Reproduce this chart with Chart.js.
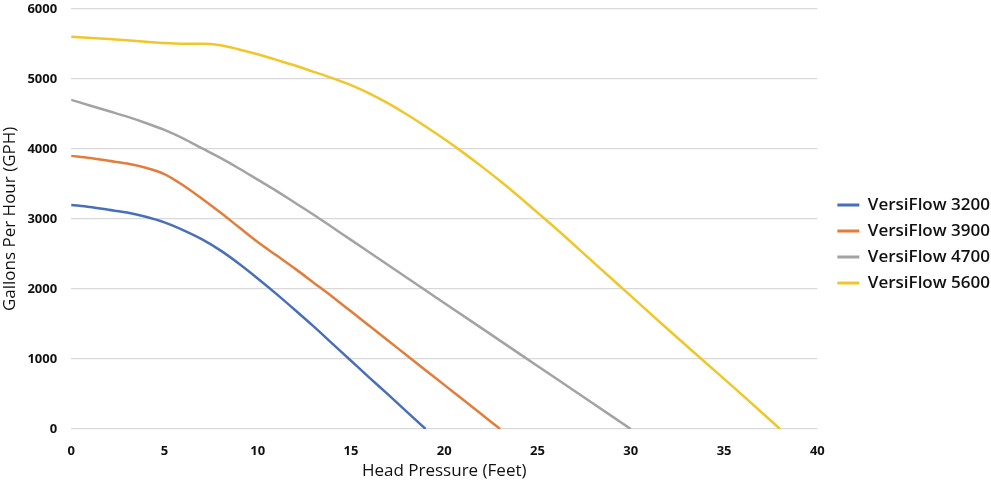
<!DOCTYPE html>
<html>
<head>
<meta charset="utf-8">
<script src="https://cdn.jsdelivr.net/npm/chart.js@4"></script>
<style>
  html, body { margin: 0; padding: 0; background: #fff; }
  #wrap { width: 991px; height: 483px; position: relative; }
</style>
</head>
<body>
<div id="wrap"><canvas id="pumpCurves"></canvas></div>
<script>
const seriesNames = ['VersiFlow 3200', 'VersiFlow 3900', 'VersiFlow 4700', 'VersiFlow 5600'];
const seriesColors = ['#4870B8', '#E27D3A', '#A3A3A3', '#F0C72A'];

// head pressure (feet) / flow (GPH)
const head3200 = [0, 1, 2, 3, 4, 5, 6, 7, 8, 9, 10, 11, 12, 13, 14, 15, 16, 17, 18, 19];
const flow3200 = [3200, 3170, 3130, 3090, 3030, 2950, 2840, 2710, 2550, 2360, 2150, 1930, 1700, 1465, 1220, 975, 730, 490, 245, 0];

const head3900 = [0, 1, 2, 3, 4, 5, 6, 7, 8, 9, 10, 11, 12, 13, 14, 15, 16, 17, 18, 19, 20, 21, 22, 23];
const flow3900 = [3900, 3870, 3830, 3790, 3730, 3640, 3480, 3290, 3090, 2880, 2670, 2480, 2290, 2090, 1890, 1680, 1470, 1260, 1050, 840, 630, 420, 210, 0];

const head4700 = [0, 1, 2, 3, 4, 5, 6, 7, 8, 9, 10, 11, 12, 13, 14, 15, 16, 18, 20, 22, 24, 26, 28, 30];
const flow4700 = [4700, 4620, 4540, 4460, 4370, 4270, 4150, 4010, 3870, 3720, 3560, 3400, 3230, 3060, 2880, 2700, 2520, 2160, 1800, 1440, 1080, 720, 360, 0];

const head5600 = [0, 2, 4, 5, 6, 7, 8, 9, 10, 11, 12, 13, 14, 15, 16, 17, 18, 19, 20, 21, 22, 23, 24, 25, 26, 28, 30, 32, 34, 36, 38];
const flow5600 = [5600, 5570, 5530, 5510, 5500, 5500, 5480, 5420, 5350, 5270, 5190, 5100, 5010, 4910, 4790, 4650, 4490, 4320, 4140, 3950, 3750, 3540, 3320, 3090, 2860, 2380, 1900, 1420, 950, 480, 0];

const yTicks = [0, 1000, 2000, 3000, 4000, 5000, 6000];
const xTicks = [0, 5, 10, 15, 20, 25, 30, 35, 40];

const heads = [head3200, head3900, head4700, head5600];
const flows = [flow3200, flow3900, flow4700, flow5600];

const datasets = seriesNames.map((name, i) => ({
  label: name,
  data: heads[i].map((h, j) => ({x: h, y: flows[i][j]})),
  borderColor: seriesColors[i],
  backgroundColor: seriesColors[i],
  borderWidth: 2.5,
  pointRadius: 0,
  cubicInterpolationMode: 'monotone',
  fill: false
}));

const tickFont = {family: 'Open Sans', size: 13, weight: 'bold'};
const titleFont = {family: 'Open Sans', size: 17};

new Chart(document.getElementById('pumpCurves'), {
  type: 'line',
  data: {datasets: datasets},
  options: {
    responsive: true,
    maintainAspectRatio: false,
    animation: false,
    layout: {padding: {top: 0, right: -3, left: 0, bottom: 0}},
    scales: {
      x: {
        type: 'linear',
        min: 0,
        max: 40,
        afterBuildTicks: (axis) => { axis.ticks = xTicks.map(v => ({value: v})); },
        grid: {display: false, drawTicks: true, tickLength: 12},
        border: {display: false},
        ticks: {font: tickFont, color: '#111', padding: 2, maxRotation: 0, callback: (v) => String(v)},
        title: {display: true, text: 'Head Pressure (Feet)', font: titleFont, color: '#111', padding: {top: 0, bottom: 2}}
      },
      y: {
        min: 0,
        max: 6000,
        afterBuildTicks: (axis) => { axis.ticks = yTicks.map(v => ({value: v})); },
        grid: {color: '#d9d9d9', lineWidth: 1.2, tickLength: 13, tickColor: 'rgba(0,0,0,0)'},
        border: {display: false},
        ticks: {font: tickFont, color: '#111', padding: 1, callback: (v) => String(v)},
        title: {display: true, text: 'Gallons Per Hour (GPH)', font: titleFont, color: '#111', padding: {top: 0, bottom: 6}}
      },
      // empty spacer between plot and legend
      gap: {
        type: 'linear',
        position: 'right',
        display: true,
        grid: {display: false, drawTicks: false},
        border: {display: false},
        ticks: {display: false},
        afterFit: (axis) => { axis.width = 11; }
      }
    },
    plugins: {
      tooltip: {enabled: false},
      legend: {
        position: 'right',
        title: {display: true, text: ' ', padding: 0, font: {size: 4}},
        labels: {
          font: {family: 'Open Sans', size: 17, weight: '600'},
          color: '#111',
          boxWidth: 22,
          boxHeight: 3,
          padding: 9,
          generateLabels: (chart) => Chart.defaults.plugins.legend.labels.generateLabels(chart).map(item => Object.assign(item, {lineWidth: 0}))
        }
      }
    }
  }
});
</script>
</body>
</html>
